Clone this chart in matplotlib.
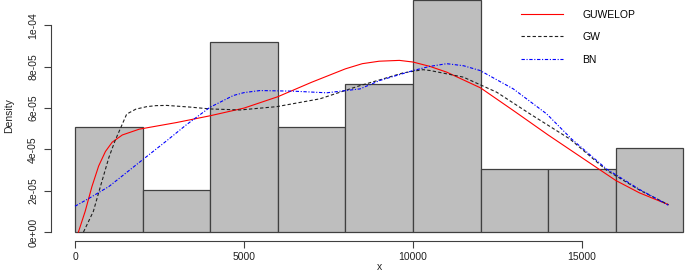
import numpy as np
import matplotlib
matplotlib.use('Agg')
import matplotlib.pyplot as plt

# histogram: bins of width 2000, counts per bin
bin_edges = [0, 2000, 4000, 6000, 8000, 10000, 12000, 14000, 16000, 18000]
counts = [5, 2, 9, 5, 7, 11, 3, 3, 4]

# fitted densities (x, density in 1e-5)
guwelop_x = [100, 300, 500, 700, 900, 1100, 1400, 1900, 3000, 4000, 5000, 6000, 7000,
             8000, 8500, 9000, 9600, 10000, 10500, 11000, 12000, 13000, 14000, 15000,
             16000, 16700, 17556]
guwelop_y = [0.0, 1.0, 2.2, 3.2, 3.9, 4.35, 4.7, 4.98, 5.3, 5.63, 6.0, 6.55, 7.25,
             7.9, 8.15, 8.27, 8.31, 8.23, 8.02, 7.74, 6.98, 5.85, 4.7, 3.6,
             2.5, 1.9, 1.33]

gw_x = [250, 542, 740, 1000, 1184, 1529, 1800, 2121, 2400, 2713, 3400, 3995, 4883,
        5968, 7250, 8434, 9025, 9700, 10300, 10505, 11491, 12478, 13464, 14648, 15732,
        16719, 17556]
gw_y = [0.0, 1.0, 2.14, 3.6, 4.42, 5.71, 5.95, 6.07, 6.12, 6.13, 6.05, 5.96, 5.91,
        6.07, 6.45, 7.09, 7.37, 7.7, 7.86, 7.82, 7.5, 6.77, 5.72, 4.5, 2.99,
        2.02, 1.33]

bn_x = [0, 444, 740, 1000, 1500, 2000, 2713, 3300, 3995, 4685, 5000, 5474, 6460,
        7447, 8434, 9025, 10011, 10500, 11000, 11500, 11985, 12970, 13957, 14697,
        15732, 16719, 17556]
bn_y = [1.25, 1.66, 1.95, 2.2, 2.85, 3.5, 4.42, 5.2, 6.04, 6.61, 6.75, 6.85, 6.82,
        6.74, 6.93, 7.34, 7.82, 8.02, 8.15, 8.05, 7.82, 6.93, 5.72, 4.5,
        3.05, 2.05, 1.3]

plt.rcParams['font.family'] = ['Liberation Sans', 'DejaVu Sans']

fig = plt.figure(figsize=(6.85, 2.74), dpi=100)
ax = fig.add_axes([0.074, 0.1193, 0.959, 0.912])

n = sum(counts)
density = [c / (n * 2000) for c in counts]
ax.bar(bin_edges[:-1], density, width=2000, align='edge',
       color='#bebebe', edgecolor='#404040', linewidth=0.9)

scale = 1e-5
ax.plot(guwelop_x, np.array(guwelop_y) * scale, color='#ff0000', lw=0.8, label='GUWELOP')
ax.plot(gw_x, np.array(gw_y) * scale, color='#202020', lw=0.8, ls=(0, (3, 2)), label='GW')
ax.plot(bn_x, np.array(bn_y) * scale, color='#0000ff', lw=0.8, ls=(0, (3, 1.5, 1, 1.5)), label='BN')

ax.set_xlim(-720, 18720)
ax.set_ylim(-4.48e-6, 1.1648e-4)

for s in ['top', 'right']:
    ax.spines[s].set_visible(False)
ax.spines['left'].set_bounds(0, 1e-4)
ax.spines['bottom'].set_bounds(0, 15000)
ax.spines['left'].set_color('#404040')
ax.spines['bottom'].set_color('#404040')

ax.set_xticks([0, 5000, 10000, 15000])
ax.set_xticklabels(['0', '5000', '10000', '15000'])
yt = [0, 2e-5, 4e-5, 6e-5, 8e-5, 1e-4]
ax.set_yticks(yt)
ax.set_yticklabels(['0e+00', '2e-05', '4e-05', '6e-05', '8e-05', '1e-04'],
                   rotation=90, va='center')
ax.tick_params(axis='both', direction='out', length=5, width=0.8, color='#404040',
               labelsize=7.5, labelcolor='#222222')
ax.tick_params(axis='x', pad=3)
ax.tick_params(axis='y', pad=4)

fig.text(0.5545, 0.006, 'x', ha='center', va='bottom', fontsize=7.5, color='#222222')
fig.text(0.006, 0.58, 'Density', rotation=90, ha='left', va='center', fontsize=7.5, color='#222222')

ax.legend(loc='upper left', bbox_to_anchor=(521 / 685, 0.965), bbox_transform=fig.transFigure,
          frameon=False, fontsize=7.5, handlelength=4.0, handletextpad=1.9,
          labelspacing=1.2, borderpad=0, borderaxespad=0)

fig.savefig('out.png', dpi=100)
